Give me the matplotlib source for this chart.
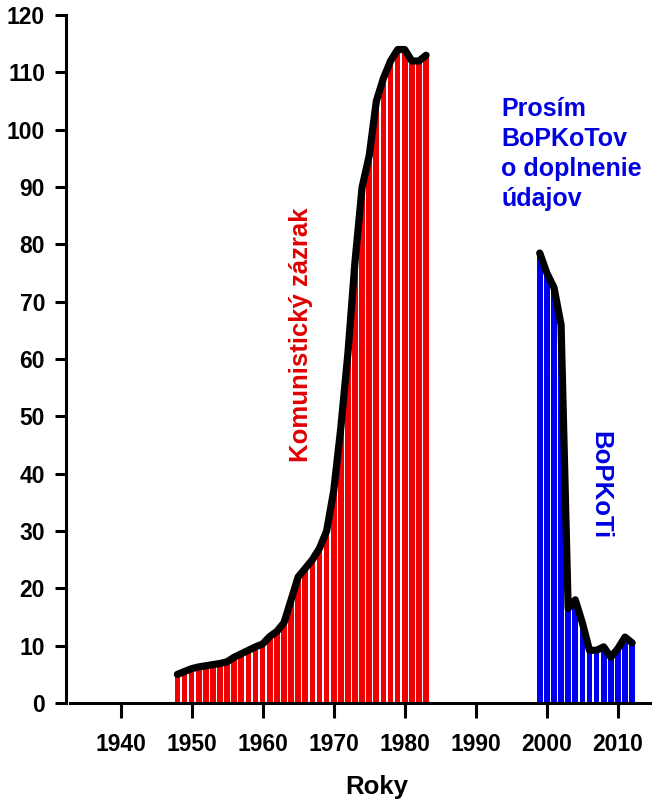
import numpy as np
import matplotlib.pyplot as plt

plt.rcParams['font.family'] = ['Liberation Sans', 'DejaVu Sans']
plt.rcParams['font.weight'] = 'bold'

# values
red_years = list(range(1948, 1984))
red_values = [5.0, 5.5, 6.0, 6.3, 6.5, 6.7, 6.9, 7.2, 8.0, 8.6,
              9.2, 9.8, 10.3, 11.6, 12.5, 14.0, 18.0, 22.0, 23.5, 25.0,
              27.0, 30.0, 37.0, 48.0, 61.0, 77.0, 90.0, 95.5, 105.0, 109.0,
              112.0, 114.0, 114.0, 112.0, 112.0, 113.0]

blue_years = list(range(1999, 2013))
blue_values = [78.5, 75.0, 72.5, 66.0, 16.5, 18.0, 14.0, 9.2, 9.2, 9.8,
               8.0, 9.5, 11.5, 10.5]

x_ticks = [1940, 1950, 1960, 1970, 1980, 1990, 2000, 2010]
y_ticks = list(range(0, 121, 10))

fig = plt.figure(figsize=(6.52, 8.02), dpi=100)
ax = fig.add_axes([0.101, 0.1234, 0.899, 0.8577])

ax.bar(red_years, red_values, width=0.8, color='#f00000', edgecolor='none', zorder=2)
ax.bar(blue_years, blue_values, width=0.8, color='#0000f0', edgecolor='none', zorder=2)
ax.plot(red_years, red_values, color='black', lw=5.2, solid_joinstyle='round',
        solid_capstyle='round', zorder=3)
ax.plot(blue_years, blue_values, color='black', lw=5.2, solid_joinstyle='round',
        solid_capstyle='round', zorder=3)

ax.set_xlim(1932.3, 2014.8)
ax.set_ylim(0, 120)
ax.set_xticks(x_ticks)
ax.set_yticks(y_ticks)

for s in ['top', 'right']:
    ax.spines[s].set_visible(False)
for s in ['left', 'bottom']:
    ax.spines[s].set_linewidth(2.2)
ax.spines['bottom'].set_bounds(1932.9, 2014.8)

ax.tick_params(axis='y', length=8, width=2.2, pad=7, labelsize=16.5)
ax.tick_params(axis='x', length=10.5, width=2.2, pad=11, labelsize=16.5)
for lab in ax.get_xticklabels() + ax.get_yticklabels():
    lab.set_fontweight('bold')

ax.set_xlabel('Roky', fontsize=18.5, fontweight='bold')
ax.xaxis.set_label_coords(0.531, -0.105)

ax.text(1965.4, 64.3, 'Komunistický zázrak', rotation=90, color='#e00000',
        fontsize=18.5, fontweight='bold', ha='center', va='center')
ax.text(2007.5, 38, 'BoPKoTi', rotation=-90, color='#0000e0',
        fontsize=18.5, fontweight='bold', ha='center', va='center')
ax.text(1993.6, 105.8, 'Prosím\nBoPKoTov\no doplnenie\núdajov', color='#0000e0',
        fontsize=18, fontweight='bold', ha='left', va='top', linespacing=1.33)

fig.savefig('out.png', dpi=100)
